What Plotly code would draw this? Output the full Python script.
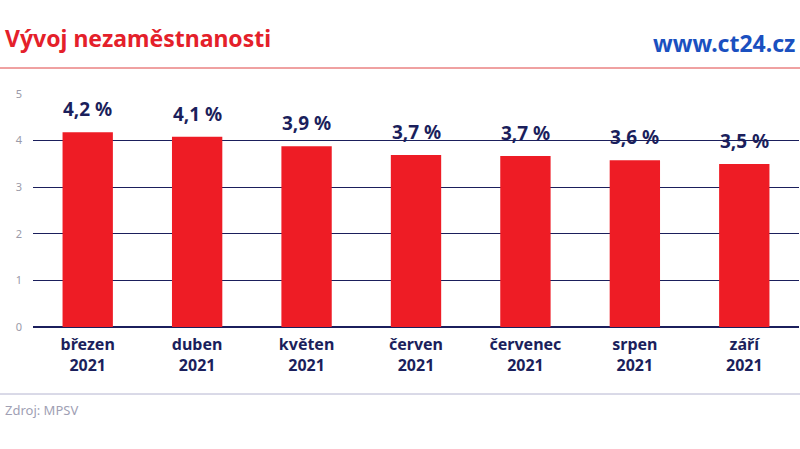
import plotly.graph_objects as go

months = ["březen", "duben", "květen", "červen", "červenec", "srpen", "září"]
years = ["2021"] * 7
values = [4.18, 4.08, 3.88, 3.69, 3.67, 3.58, 3.50]
ytick_vals = [0, 1, 2, 3, 4, 5]

cats = [f"<b>{m}<br>{y}</b>" for m, y in zip(months, years)]

NAVY = "#1b1f5c"
RED = "#ee1c25"

fig = go.Figure(go.Bar(
    x=cats, y=values,
    marker=dict(color=RED, line=dict(width=0)),
    width=0.46,
    hoverinfo="skip",
))

H = 233.0
def py(pix):
    return (327 - pix) / H

value_labels = [
    dict(x=c, y=v, xref="x", yref="y", text="<b>" + f"{v:.1f}".replace(".", ",") + " %</b>",
         showarrow=False, yanchor="bottom", xanchor="center", yshift=8,
         font=dict(family="Noto Sans", size=19, color=NAVY))
    for c, v in zip(cats, values)
]

fig.update_layout(
    width=800, height=449,
    margin=dict(l=33, r=1, t=94, b=122),
    paper_bgcolor="white", plot_bgcolor="white",
    showlegend=False,
    bargap=0.54,
    xaxis=dict(
        showgrid=False, zeroline=False, showline=False, ticks="",
        tickfont=dict(family="Noto Sans", size=16, color=NAVY),
        ticklabelstandoff=6,
        fixedrange=True,
    ),
    yaxis=dict(
        range=[0, 5], tickvals=ytick_vals,
        showgrid=True, gridcolor=NAVY, gridwidth=1,
        zeroline=True, zerolinecolor=NAVY, zerolinewidth=1.5,
        showline=False, ticks="",
        tickfont=dict(family="Noto Sans", size=11, color="#9a9aa8"),
        ticklabelstandoff=10,
        fixedrange=True,
    ),
    shapes=[
        dict(type="line", xref="paper", yref="paper", x0=-0.05, x1=1.01,
             y0=py(68), y1=py(68), line=dict(color="#e04545", width=1)),
        dict(type="line", xref="paper", yref="paper", x0=-0.05, x1=1.01,
             y0=py(394), y1=py(394), line=dict(color="#b4b4d0", width=1)),
    ],
    annotations=value_labels + [
        dict(text="<b>Vývoj nezaměstnanosti</b>", xref="paper", yref="paper",
             x=-30/767, y=py(38), xanchor="left", yanchor="middle", showarrow=False,
             font=dict(family="Noto Sans", size=23, color="#e4202a")),
        dict(text="<b>www.ct24.cz</b>", xref="paper", yref="paper",
             x=(798 - 33)/767, y=py(43), xanchor="right", yanchor="middle", showarrow=False,
             font=dict(family="Noto Sans", size=23, color="#1a50c0")),
        dict(text="Zdroj: MPSV", xref="paper", yref="paper",
             x=-30/767, y=py(410), xanchor="left", yanchor="middle", showarrow=False,
             font=dict(family="Noto Sans", size=13, color="#a0a0b4")),
    ],
)

fig.write_html("out.html", config={"displayModeBar": False},
               post_script="document.body.style.margin='0';document.body.style.overflow='hidden';")
